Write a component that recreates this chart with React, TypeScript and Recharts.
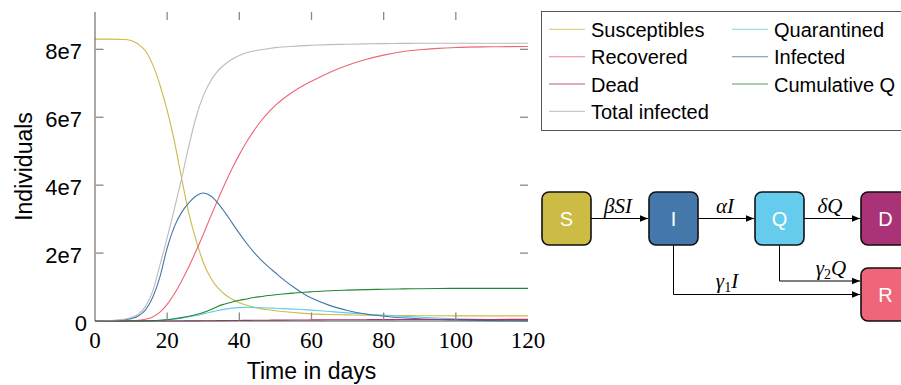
import React from 'react';
import { LineChart, Line, XAxis, YAxis, ReferenceLine } from 'recharts';

// time in days
const days = [0, 4, 8, 10, 12, 14, 16, 18, 20, 22, 24, 26, 28, 30, 32, 34, 36, 38, 40, 42, 44, 46, 48, 50, 52, 55, 58, 60, 65, 70, 75, 80, 85, 90, 95, 100, 110, 120];

// values in millions of individuals
const susceptibles = [83.0, 83.0, 82.9, 82.6, 81.5, 79.5, 75.5, 69.5, 62.0, 53.0, 42.0, 31.8, 23.8, 17.3, 12.8, 9.8, 7.8, 6.4, 5.4, 4.65, 4.1, 3.65, 3.3, 3.0, 2.8, 2.5, 2.25, 2.1, 1.9, 1.8, 1.7, 1.65, 1.6, 1.55, 1.55, 1.5, 1.5, 1.5];
const quarantined = [0, 0, 0, 0.01, 0.02, 0.05, 0.1, 0.2, 0.35, 0.55, 0.85, 1.2, 1.6, 2.1, 2.6, 3.1, 3.5, 3.8, 3.95, 4.0, 3.95, 3.9, 3.85, 3.75, 3.65, 3.5, 3.35, 3.2, 2.8, 2.4, 2.05, 1.7, 1.4, 1.1, 0.85, 0.65, 0.4, 0.25];
const recovered = [0, 0.01, 0.05, 0.1, 0.2, 0.5, 1.2, 2.6, 4.9, 8.0, 11.8, 16.0, 20.6, 25.5, 30.6, 35.6, 40.4, 44.9, 49.0, 52.7, 56.0, 58.9, 61.4, 63.5, 65.3, 67.6, 69.5, 70.6, 73.2, 75.3, 77.0, 78.3, 79.3, 79.9, 80.3, 80.55, 80.75, 80.85];
const infected = [0.02, 0.08, 0.35, 0.7, 1.5, 3.3, 7.0, 13.0, 21.5, 27.8, 32.0, 34.8, 36.8, 37.7, 36.9, 34.8, 32.0, 28.9, 25.8, 22.9, 20.3, 18.0, 16.0, 14.2, 12.4, 10.0, 7.9, 6.8, 4.6, 3.1, 2.05, 1.4, 0.95, 0.63, 0.42, 0.28, 0.12, 0.05];
const dead = [0, 0, 0, 0, 0, 0, 0, 0, 0.01, 0.01, 0.02, 0.03, 0.04, 0.06, 0.08, 0.1, 0.12, 0.14, 0.16, 0.18, 0.2, 0.22, 0.24, 0.26, 0.27, 0.29, 0.31, 0.32, 0.35, 0.37, 0.39, 0.41, 0.42, 0.43, 0.44, 0.45, 0.46, 0.47];
const cumulativeQ = [0, 0, 0, 0.01, 0.02, 0.05, 0.1, 0.2, 0.4, 0.65, 1.0, 1.4, 1.9, 2.5, 3.3, 4.3, 5.0, 5.6, 6.1, 6.5, 6.9, 7.2, 7.5, 7.75, 7.95, 8.2, 8.45, 8.6, 8.9, 9.1, 9.25, 9.35, 9.45, 9.5, 9.55, 9.6, 9.6, 9.6];
const totalInfected = [0.05, 0.15, 0.5, 1.0, 2.0, 4.3, 8.8, 16.5, 24.5, 33.0, 42.0, 51.5, 60.0, 66.3, 70.6, 73.6, 75.6, 77.1, 78.2, 79.0, 79.5, 79.9, 80.2, 80.5, 80.7, 80.9, 81.1, 81.2, 81.4, 81.5, 81.6, 81.7, 81.75, 81.8, 81.8, 81.8, 81.8, 81.8];

const xTicks = [0, 20, 40, 60, 80, 100, 120];
const xTickLabels = ['0', '20', '40', '60', '80', '100', '120'];
const yTicks = [0, 20, 40, 60, 80];
const yTickLabels = ['0', '2e7', '4e7', '6e7', '8e7'];

const X_DOMAIN: [number, number] = [0, 120];
const Y_DOMAIN: [number, number] = [0, 91];

const series = [
  { key: 'susceptibles', name: 'Susceptibles', color: '#CCBB44', values: susceptibles },
  { key: 'quarantined', name: 'Quarantined', color: '#66CCEE', values: quarantined },
  { key: 'recovered', name: 'Recovered', color: '#EE6677', values: recovered },
  { key: 'infected', name: 'Infected', color: '#4477AA', values: infected },
  { key: 'dead', name: 'Dead', color: '#AA3377', values: dead },
  { key: 'cumq', name: 'Cumulative Q', color: '#228833', values: cumulativeQ },
  { key: 'total', name: 'Total infected', color: '#BBBBBB', values: totalInfected },
];

const data = days.map((d, i) => {
  const row: any = { day: d };
  series.forEach((s) => {
    row[s.key] = s.values[i];
  });
  return row;
});

const SANS = "'Liberation Sans', Arial, sans-serif";
const SERIF = "'Liberation Serif', 'Times New Roman', serif";
const AXIS = '#555';
const TICK = '#8a8a8a';

// chart geometry
const CHART_W = 901;
const CHART_H = 385;
const MARGIN = { top: 12, right: 373, bottom: 0, left: 0 };
const Y_AXIS_W = 95;
const X_AXIS_H = 64;
const PLOT_X = MARGIN.left + Y_AXIS_W;
const PLOT_Y = MARGIN.top;
const PLOT_W = CHART_W - MARGIN.left - MARGIN.right - Y_AXIS_W;
const PLOT_H = CHART_H - MARGIN.top - MARGIN.bottom - X_AXIS_H;
const TICK_PX = 8;
const TICK_DX = (TICK_PX * (X_DOMAIN[1] - X_DOMAIN[0])) / PLOT_W;
const TICK_DY = (TICK_PX * (Y_DOMAIN[1] - Y_DOMAIN[0])) / PLOT_H;
const EPS = 1e-6;

const XTick = (props: any) => {
  const { x, y, payload } = props;
  const i = xTicks.indexOf(payload.value);
  return (
    <text x={x} y={y + 27} textAnchor="middle" fontFamily={SERIF} fontSize={23} fill="#000">
      {xTickLabels[i]}
    </text>
  );
};

const YTick = (props: any) => {
  const { x, y, payload } = props;
  const i = yTicks.indexOf(payload.value);
  return (
    <text x={x - 13 + (payload.value === 0 ? 5 : 0)} y={y} dy={10} textAnchor="end" fontFamily={SANS} fontSize={22} fill="#000">
      {yTickLabels[i]}
    </text>
  );
};

const XLabel = (props: any) => {
  const vb = props.viewBox || { x: 95, y: 321, width: 433, height: 64 };
  return (
    <text x={vb.x + vb.width / 2} y={vb.y + 58} textAnchor="middle" fontFamily={SANS} fontSize={23} fill="#000">
      Time in days
    </text>
  );
};

const YLabel = (props: any) => {
  const vb = props.viewBox || { x: 0, y: 12, width: 95, height: 309 };
  const cx = vb.x + 32;
  const cy = vb.y + vb.height / 2;
  return (
    <text x={cx} y={cy} transform={`rotate(-90, ${cx}, ${cy})`} textAnchor="middle" fontFamily={SANS} fontSize={23} fill="#000">
      Individuals
    </text>
  );
};

// inner ticks on the top and right frame edges
const frameTicks = () => {
  const out: any[] = [];
  const yHi = Y_DOMAIN[1] - EPS;
  const xHi = X_DOMAIN[1] - EPS;
  xTicks.forEach((v) => {
    if (v === X_DOMAIN[0] || v === X_DOMAIN[1]) return;
    out.push(
      <ReferenceLine key={`xt${v}`} xAxisId="bottom" yAxisId="left" stroke={TICK} strokeWidth={1.3} ifOverflow="visible"
        segment={[{ x: v, y: yHi }, { x: v, y: yHi - TICK_DY }]} />
    );
  });
  yTicks.forEach((v) => {
    if (v === Y_DOMAIN[0]) return;
    out.push(
      <ReferenceLine key={`yr${v}`} xAxisId="bottom" yAxisId="left" stroke={TICK} strokeWidth={1.3} ifOverflow="visible"
        segment={[{ x: xHi - TICK_DX, y: v }, { x: xHi, y: v }]} />
    );
  });
  return out;
};

// inner ticks on the bottom and left axes (drawn above the axes)
function AxisTicks() {
  const px = (v: number) => PLOT_X + ((v - X_DOMAIN[0]) / (X_DOMAIN[1] - X_DOMAIN[0])) * PLOT_W;
  const py = (v: number) => PLOT_Y + PLOT_H - ((v - Y_DOMAIN[0]) / (Y_DOMAIN[1] - Y_DOMAIN[0])) * PLOT_H;
  const bottom = PLOT_Y + PLOT_H;
  return (
    <g>
      {xTicks
        .filter((v) => v !== X_DOMAIN[0] && v !== X_DOMAIN[1])
        .map((v) => (
          <line key={`xb${v}`} x1={px(v)} x2={px(v)} y1={bottom - 0.5} y2={bottom - 0.5 - TICK_PX} stroke={TICK} strokeWidth={1.3} />
        ))}
      {yTicks
        .filter((v) => v !== Y_DOMAIN[0])
        .map((v) => (
          <line key={`yl${v}`} x1={PLOT_X + 0.5} x2={PLOT_X + 0.5 + TICK_PX} y1={py(v)} y2={py(v)} stroke={TICK} strokeWidth={1.3} />
        ))}
    </g>
  );
}

const legendCol1 = ['susceptibles', 'recovered', 'dead', 'total'];
const legendCol2 = ['quarantined', 'infected', 'cumq'];

function Legend() {
  const rowY = [29.3, 56.7, 84, 111.4];
  const col = (keys: string[], lx: number) =>
    keys.map((k, r) => {
      const s = series.find((q) => q.key === k)!;
      return (
        <g key={k}>
          <line x1={lx} x2={lx + 36} y1={rowY[r]} y2={rowY[r]} stroke={s.color} strokeWidth={1.1} strokeOpacity={0.8} />
          <text x={lx + 42} y={rowY[r] + 7.5} fontFamily={SANS} fontSize={20} fill="#000">
            {s.name}
          </text>
        </g>
      );
    });
  return (
    <g>
      <rect x={541.5} y={11.5} width={380} height={119} fill="#fff" stroke={AXIS} strokeWidth={1} />
      {col(legendCol1, 549)}
      {col(legendCol2, 732)}
    </g>
  );
}

function Box({ x, y, fill, label }: { x: number; y: number; fill: string; label: string }) {
  return (
    <g>
      <rect x={x} y={y} width={49} height={53} rx={7} ry={7} fill={fill} stroke="#111" strokeWidth={1.6} />
      <text x={x + 24.5} y={y + 33.5} textAnchor="middle" fontFamily={SANS} fontSize={20} fill="#fff">
        {label}
      </text>
    </g>
  );
}

function Diagram() {
  const mathStyle = { fontFamily: SERIF, fontStyle: 'italic' as const, fontSize: 21, fill: '#000' };
  return (
    <g>
      <defs>
        <marker id="arr" viewBox="0 0 10 10" refX="10" refY="5" markerWidth="8" markerHeight="8" markerUnits="userSpaceOnUse" orient="auto">
          <path d="M0,1 L10,5 L0,9 z" fill="#000" />
        </marker>
      </defs>
      <line x1={591} y1={218.5} x2={648} y2={218.5} stroke="#000" strokeWidth={1} markerEnd="url(#arr)" />
      <line x1={698} y1={218.5} x2={754} y2={218.5} stroke="#000" strokeWidth={1} markerEnd="url(#arr)" />
      <line x1={804} y1={218.5} x2={860} y2={218.5} stroke="#000" strokeWidth={1} markerEnd="url(#arr)" />
      <polyline points="673.5,245 673.5,294.5 860,294.5" fill="none" stroke="#000" strokeWidth={1} markerEnd="url(#arr)" />
      <polyline points="779.5,245 779.5,281 860,281" fill="none" stroke="#000" strokeWidth={1} markerEnd="url(#arr)" />
      <Box x={542} y={192} fill="#CCBB44" label="S" />
      <Box x={649} y={192} fill="#4477AA" label="I" />
      <Box x={755} y={192} fill="#66CCEE" label="Q" />
      <Box x={861} y={192} fill="#AA3377" label="D" />
      <Box x={861} y={268} fill="#EE6677" label="R" />
      <text x={618} y={213} textAnchor="middle" {...mathStyle}>βSI</text>
      <text x={725} y={213} textAnchor="middle" {...mathStyle}>αI</text>
      <text x={830} y={213} textAnchor="middle" {...mathStyle}>δQ</text>
      <text x={727} y={288} textAnchor="middle" {...mathStyle}>
        γ<tspan fontSize={14} dy={4} fontStyle="normal">1</tspan>
        <tspan dy={-4}>I</tspan>
      </text>
      <text x={831} y={275} textAnchor="middle" {...mathStyle}>
        γ<tspan fontSize={14} dy={4} fontStyle="normal">2</tspan>
        <tspan dy={-4}>Q</tspan>
      </text>
    </g>
  );
}

export default function App() {
  return (
    <div style={{ position: 'absolute', left: 0, top: 0, width: CHART_W, height: CHART_H, background: '#fff' }}>
      <LineChart width={CHART_W} height={CHART_H} data={data} margin={MARGIN}>
        <XAxis
          xAxisId="bottom"
          dataKey="day"
          type="number"
          domain={X_DOMAIN}
          ticks={xTicks}
          interval={0}
          height={X_AXIS_H}
          tickSize={0}
          tickMargin={0}
          axisLine={{ stroke: AXIS }}
          tickLine={false}
          tick={<XTick />}
          label={<XLabel />}
        />
        <XAxis
          xAxisId="top"
          orientation="top"
          dataKey="day"
          type="number"
          domain={X_DOMAIN}
          ticks={xTicks}
          height={0}
          axisLine={{ stroke: AXIS }}
          tickLine={false}
          tick={false}
        />
        <YAxis
          yAxisId="left"
          type="number"
          domain={Y_DOMAIN}
          ticks={yTicks}
          interval={0}
          width={Y_AXIS_W}
          tickSize={0}
          tickMargin={0}
          axisLine={{ stroke: AXIS }}
          tickLine={false}
          tick={<YTick />}
          label={<YLabel />}
        />
        <YAxis
          yAxisId="right"
          orientation="right"
          type="number"
          domain={Y_DOMAIN}
          ticks={yTicks}
          width={0}
          axisLine={{ stroke: AXIS }}
          tickLine={false}
          tick={false}
        />
        {frameTicks()}
        {series.map((s) => (
          <Line
            key={s.key}
            xAxisId="bottom"
            yAxisId="left"
            type="monotone"
            dataKey={s.key}
            name={s.name}
            stroke={s.color}
            strokeWidth={1.1}
            dot={false}
            activeDot={false}
            isAnimationActive={false}
          />
        ))}
      </LineChart>
      <svg width={CHART_W} height={CHART_H} style={{ position: 'absolute', left: 0, top: 0, pointerEvents: 'none' }}>
        <AxisTicks />
        <Legend />
        <Diagram />
      </svg>
    </div>
  );
}
